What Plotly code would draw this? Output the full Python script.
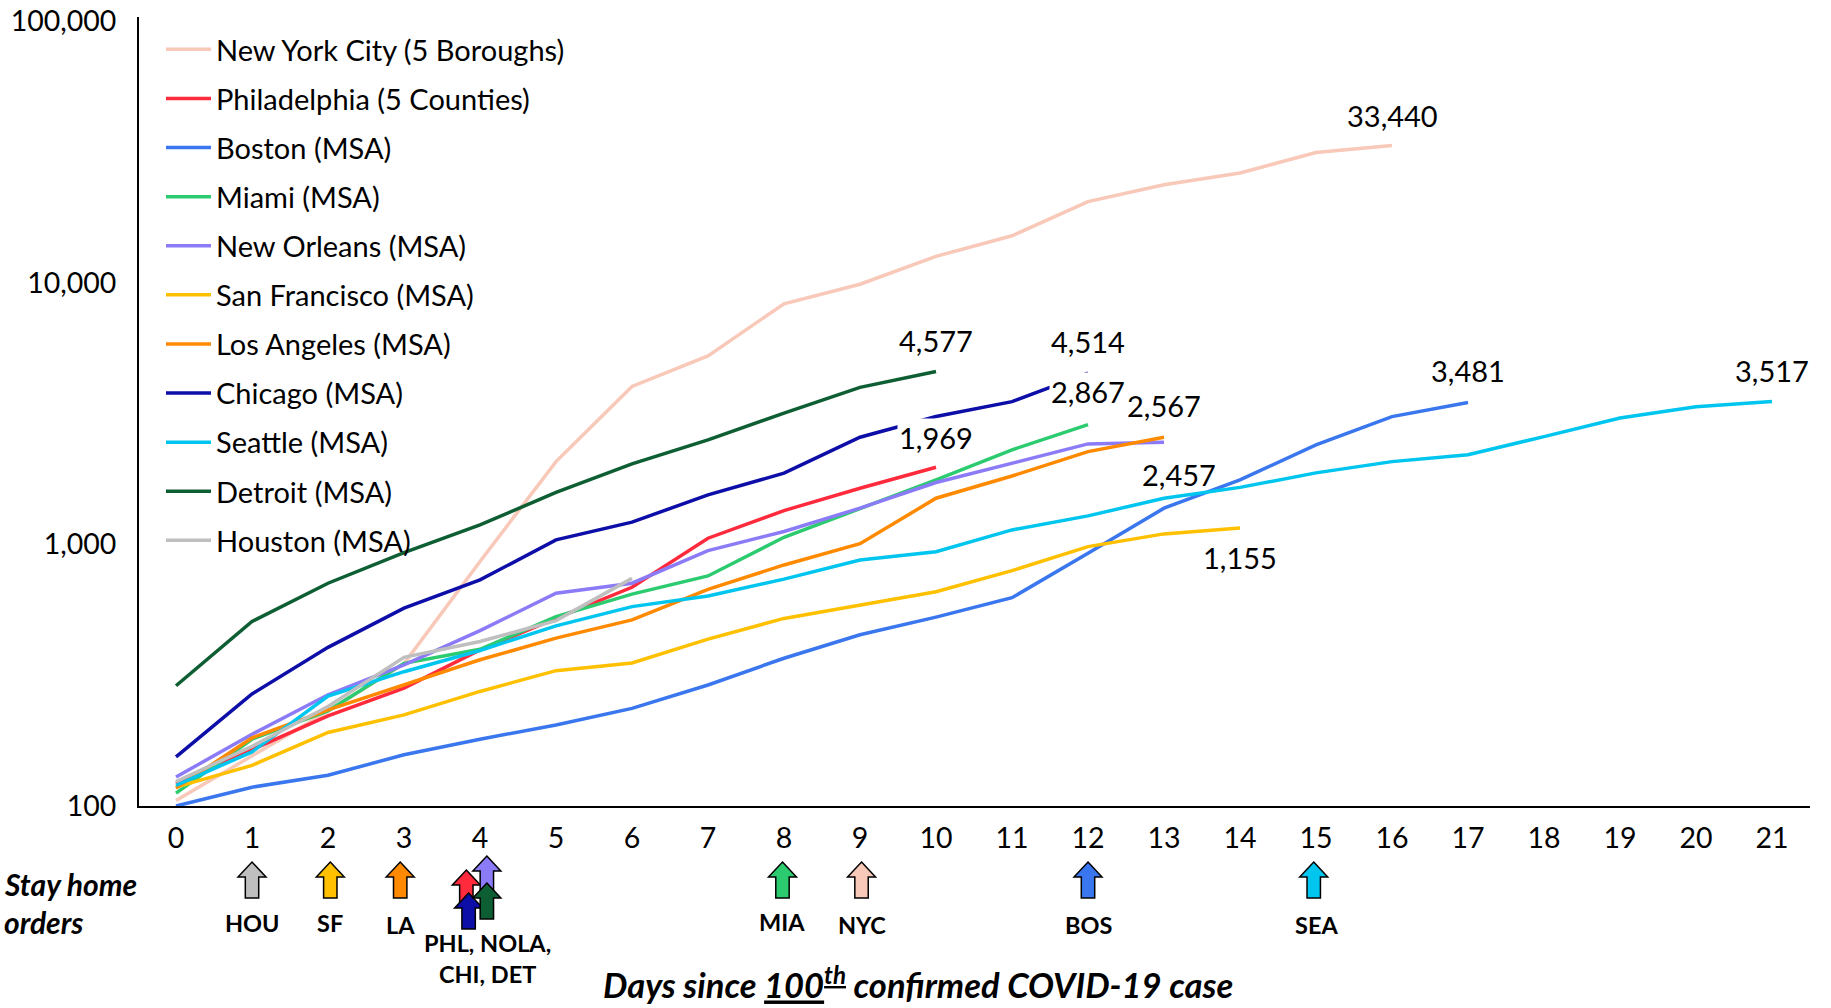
import plotly.graph_objects as go
import math

# ---------------- data ----------------
x_ticks = list(range(0, 22))
y_tick_vals = [100, 1000, 10000, 100000]
y_tick_text = ["100", "1,000", "10,000", "100,000"]

series_names = [
    "New York City (5 Boroughs)", "Philadelphia (5 Counties)", "Boston (MSA)",
    "Miami (MSA)", "New Orleans (MSA)", "San Francisco (MSA)", "Los Angeles (MSA)",
    "Chicago (MSA)", "Seattle (MSA)", "Detroit (MSA)", "Houston (MSA)",
]
series_colors = [
    "#F8C8B8", "#FF2A3C", "#3A77EE", "#2DCB70", "#8B7BF7", "#FFC000",
    "#FF8A00", "#0D0DA8", "#00C5EF", "#0E5E33", "#BFBFBF",
]

nyc = [105, 155, 230, 350, 860, 2070, 4010, 5250, 8300, 9860, 12600, 15100,
       20400, 23650, 26240, 31400, 33440]
philadelphia = [122, 164, 221, 282, 395, 521, 685, 1055, 1346, 1638, 1969]
boston = [100, 118, 131, 157, 180, 204, 236, 290, 367, 451, 527, 625, 925,
          1374, 1762, 2400, 3076, 3481]
miami = [112, 180, 231, 351, 397, 529, 645, 757, 1064, 1374, 1762, 2296, 2867]
new_orleans = [129, 188, 266, 346, 468, 650, 710, 946, 1119, 1374, 1722, 2042,
               2419, 2457]
san_francisco = [118, 143, 191, 223, 274, 329, 352, 434, 521, 586, 659, 793,
                 980, 1096, 1155]
los_angeles = [117, 182, 233, 290, 362, 438, 514, 673, 834, 1005, 1500, 1824,
               2260, 2567]
chicago = [154, 268, 404, 570, 731, 1040, 1215, 1545, 1870, 2565, 3077, 3508,
           4514]
seattle = [120, 161, 263, 326, 393, 488, 578, 635, 736, 871, 937, 1135, 1284,
           1500, 1650, 1875, 2070, 2198, 2580, 3037, 3357, 3517]
detroit = [288, 507, 710, 929, 1186, 1578, 2030, 2506, 3170, 3980, 4577]
houston = [124, 169, 240, 370, 425, 511, 741]

series_values = [nyc, philadelphia, boston, miami, new_orleans, san_francisco,
                 los_angeles, chicago, seattle, detroit, houston]

# end-value labels: (series index, x shift px, y shift px, white background)
end_labels = [
    (0, 0, 30, False), (9, 0, 31, False), (7, 0, 32, False), (3, 0, 33, True),
    (6, 0, 32, False), (1, 0, 30, True), (4, 15, -32, False), (5, 0, -30, False),
    (2, 0, 32, False), (8, 0, 31, False),
]

# stay-home orders (day of order) and colour index
order_codes = ["HOU", "SF", "LA", "PHL", "NOLA", "CHI", "DET", "MIA", "NYC", "BOS", "SEA"]
order_days = [1, 2, 3, 4, 4, 4, 4, 8, 9, 12, 15]
order_color_idx = [10, 5, 6, 1, 4, 7, 9, 3, 0, 2, 8]
order_labels = ["HOU", "SF", "LA", "PHL, NOLA,<br>CHI, DET", "MIA", "NYC", "BOS", "SEA"]
order_label_days = [1, 2, 3, 4, 8, 9, 12, 15]

# ---------------- layout geometry ----------------
W, H = 1831, 1008
ML, MR, MT, MB = 139, 21, 17, 202
plot_w = W - ML - MR
plot_h = H - MT - MB
X_RANGE = [-0.487, 21.5]
Y_RANGE = [2, 5.015]
px_per_day = plot_w / (X_RANGE[1] - X_RANGE[0])

FONT = "Lato"

fig = go.Figure()
for name, color, vals in zip(series_names, series_colors, series_values):
    fig.add_trace(go.Scatter(
        x=list(range(len(vals))), y=vals, mode="lines", name=name,
        legendgroup=name,
        line=dict(color=color, width=3.5),
        hoverinfo="x+y+name",
    ))

annotations = []
for idx, xs, ys, bg in end_labels:
    vals = series_values[idx]
    annotations.append(dict(
        x=len(vals) - 1, y=math.log10(vals[-1]), xref="x", yref="y",
        text=f"{vals[-1]:,}", showarrow=False, xshift=xs, yshift=ys,
        font=dict(family=FONT, size=29, color="black"),
        bgcolor="white" if bg else "rgba(0,0,0,0)", borderpad=1,
    ))

# stay-home arrows
nudge_x = {"SF": 0.03, "LA": -0.05, "PHL": -0.18, "NOLA": 0.09, "CHI": -0.15,
           "DET": 0.09, "MIA": -0.02, "NYC": 0.02, "SEA": -0.03}
top_below = {"PHL": 64, "NOLA": 50, "CHI": 87, "DET": 77}


def arrow_path(day, top_px):
    hw, sw, hh, L = 14, 6.7, 15, 36
    dx = lambda p: p / px_per_day
    py = lambda b: -b / plot_h
    t = top_px
    pts = [(day, t), (day + dx(hw), t + hh), (day + dx(sw), t + hh),
           (day + dx(sw), t + L), (day - dx(sw), t + L), (day - dx(sw), t + hh),
           (day - dx(hw), t + hh)]
    return "M " + " L ".join(f"{x:.4f},{py(y):.5f}" for x, y in pts) + " Z"


shapes = []
for code, day, ci in zip(order_codes, order_days, order_color_idx):
    shapes.append(dict(
        type="path", xref="x", yref="paper",
        path=arrow_path(day + nudge_x.get(code, 0), top_below.get(code, 56)),
        fillcolor=series_colors[ci], line=dict(color="black", width=1.5),
        layer="above",
    ))

label_nudge = {"SF": 0.02, "LA": -0.05, "PHL, NOLA,<br>CHI, DET": 0.1, "MIA": -0.03, "NYC": 0.03}
label_below = {"HOU": 117, "SF": 117, "LA": 119, "PHL, NOLA,<br>CHI, DET": 152,
               "MIA": 116, "NYC": 119, "BOS": 119, "SEA": 119}
for lab, day in zip(order_labels, order_label_days):
    annotations.append(dict(
        x=day + label_nudge.get(lab, 0), xref="x",
        y=-label_below[lab] / plot_h, yref="paper", yanchor="middle",
        text=f"<b>{lab}</b>", showarrow=False,
        font=dict(family=FONT, size=23.5, color="black"),
    ))

bottom_y = MT + plot_h


def paper_y(px):
    return -(px - bottom_y) / plot_h


annotations.append(dict(
    x=(2 - ML) / plot_w, xref="paper", y=paper_y(884), yref="paper",
    text="<b><i>Stay home</i></b>", showarrow=False, xanchor="left", yanchor="middle",
    font=dict(family=FONT, size=30, color="black"),
))
annotations.append(dict(
    x=(2 - ML) / plot_w, xref="paper", y=paper_y(922), yref="paper",
    text="<b><i>orders</i></b>", showarrow=False, xanchor="left", yanchor="middle",
    font=dict(family=FONT, size=30, color="black"),
))
annotations.append(dict(
    x=(918 - ML) / plot_w, xref="paper", y=paper_y(982), yref="paper",
    text="<b><i>Days since <u>100<sup>th</sup></u> confirmed COVID-19 case</i></b>",
    showarrow=False, xanchor="center", yanchor="middle",
    font=dict(family=FONT, size=34.5, color="black"),
))

fig.update_layout(
    width=W, height=H,
    margin=dict(l=ML, r=MR, t=MT, b=MB, autoexpand=False),
    paper_bgcolor="white", plot_bgcolor="white",
    font=dict(family=FONT, color="black"),
    showlegend=True,
    legend=dict(
        x=(161 - ML) / plot_w, y=1 - (24 - MT) / plot_h, xanchor="left", yanchor="top",
        bgcolor="rgba(0,0,0,0)", borderwidth=0,
        font=dict(family=FONT, size=29, color="black"),
        traceorder="grouped", tracegroupgap=8.4, itemwidth=45,
        maxheight=900,
    ),
    xaxis=dict(
        range=X_RANGE, tickmode="array", tickvals=x_ticks,
        ticktext=[str(t) for t in x_ticks], automargin=False,
        showgrid=False, zeroline=False, showline=True, linecolor="black", linewidth=2,
        ticks="", tickfont=dict(family=FONT, size=28.5, color="black"),
        ticklabelstandoff=6,
    ),
    yaxis=dict(
        type="log", range=Y_RANGE, tickmode="array", tickvals=y_tick_vals,
        ticktext=y_tick_text, automargin=False,
        showgrid=False, zeroline=False, showline=True, linecolor="black", linewidth=2,
        ticks="", tickfont=dict(family=FONT, size=28.5, color="black"),
        ticklabelstandoff=15,
    ),
    annotations=annotations,
    shapes=shapes,
)

fig.write_html("out.html", config={"displayModeBar": False},
               post_script="document.body.style.margin='0px';")
